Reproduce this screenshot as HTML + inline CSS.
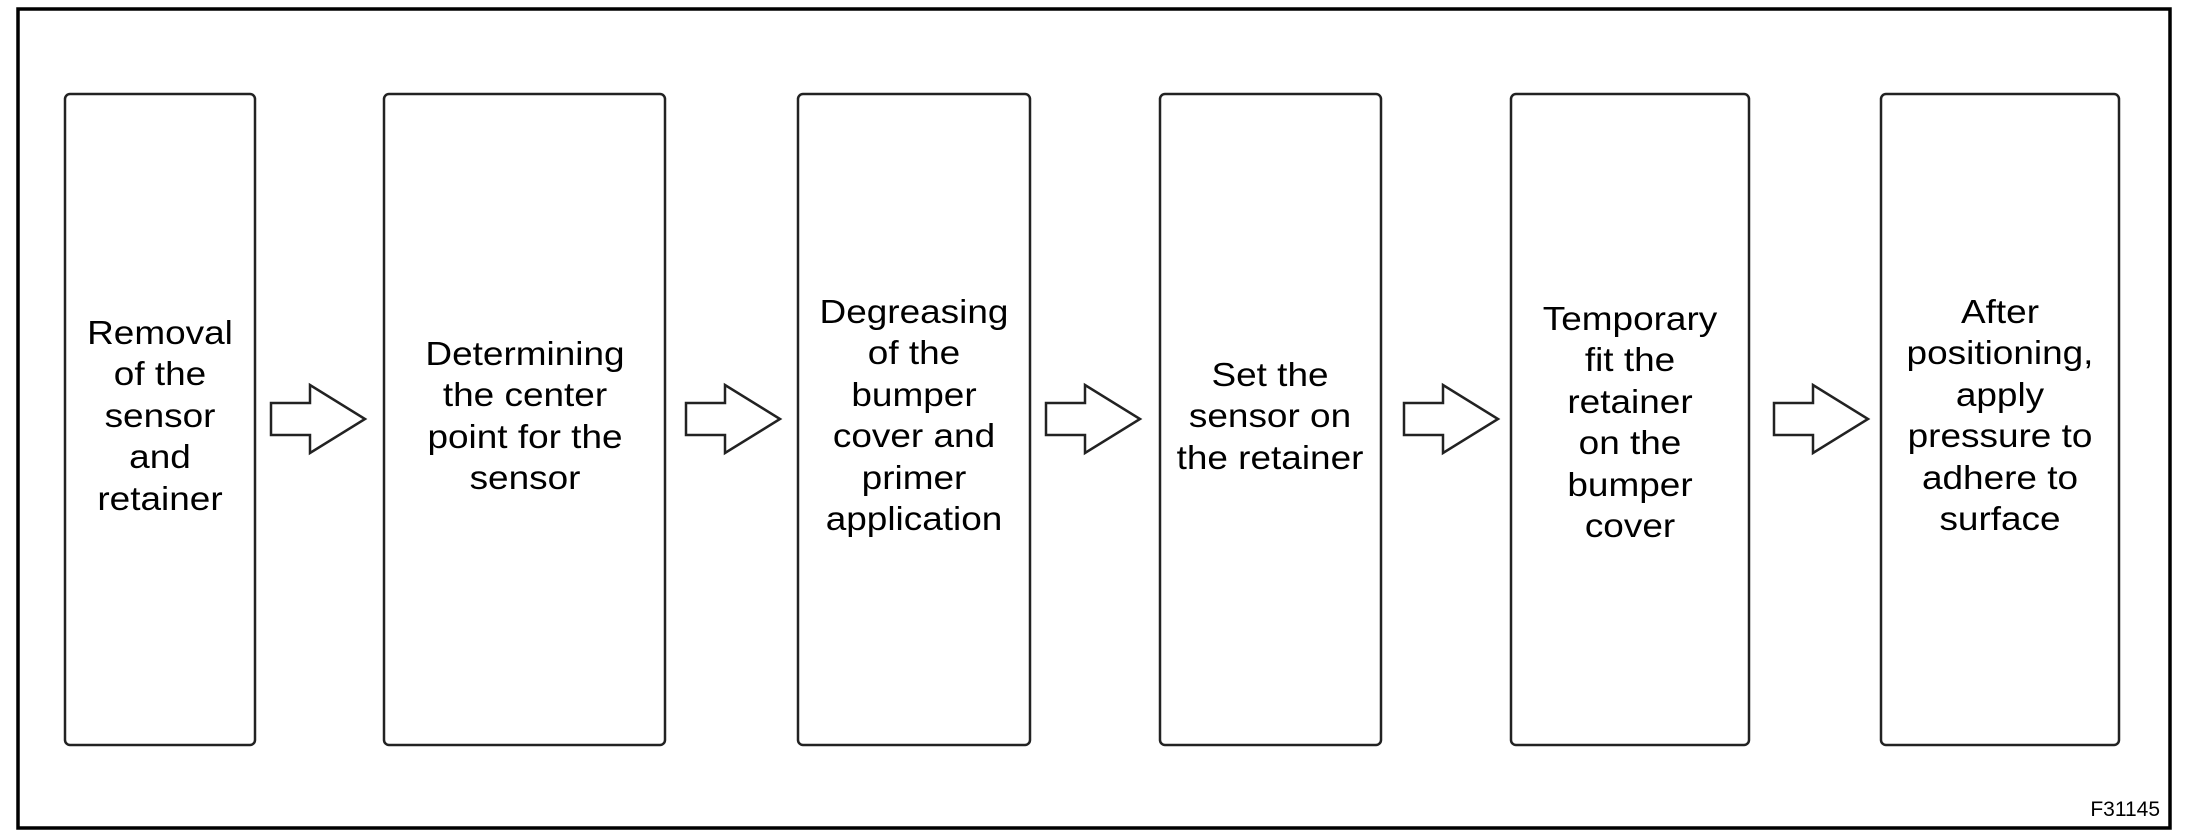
<!DOCTYPE html>
<html><head><meta charset="utf-8"><style>
html,body{margin:0;padding:0;background:#fff;}
svg{display:block;}
text{font-family:"Liberation Sans",Arial,sans-serif;fill:#000;}
</style></head><body>
<svg width="2188" height="840" viewBox="0 0 2188 840" xmlns="http://www.w3.org/2000/svg">
<rect x="0" y="0" width="2188" height="840" fill="#fff"/>
<rect x="18" y="9" width="2152" height="819" fill="none" stroke="#000" stroke-width="3.5"/>
<g fill="#fff" stroke="#222" stroke-width="2.5">
<rect x="65" y="94" width="190" height="651" rx="5"/>
<rect x="384" y="94" width="281" height="651" rx="5"/>
<rect x="798" y="94" width="232" height="651" rx="5"/>
<rect x="1160" y="94" width="221" height="651" rx="5"/>
<rect x="1511" y="94" width="238" height="651" rx="5"/>
<rect x="1881" y="94" width="238" height="651" rx="5"/>
</g>
<g fill="#fff" stroke="#222" stroke-width="2.5" stroke-linejoin="miter">
<polygon points="0,-16 39,-16 39,-34 94,0 39,34 39,16 0,16" transform="translate(271,419)"/>
<polygon points="0,-16 39,-16 39,-34 94,0 39,34 39,16 0,16" transform="translate(686,419)"/>
<polygon points="0,-16 39,-16 39,-34 94,0 39,34 39,16 0,16" transform="translate(1046,419)"/>
<polygon points="0,-16 39,-16 39,-34 94,0 39,34 39,16 0,16" transform="translate(1404,419)"/>
<polygon points="0,-16 39,-16 39,-34 94,0 39,34 39,16 0,16" transform="translate(1774,419)"/>
</g>
<g font-size="33" text-anchor="middle">
<g transform="translate(160,0) scale(1.12,1)">
<text x="0" y="344">Removal</text><text x="0" y="385">of the</text><text x="0" y="427">sensor</text><text x="0" y="468">and</text><text x="0" y="510">retainer</text>
</g>
<g transform="translate(525,0) scale(1.12,1)">
<text x="0" y="365">Determining</text><text x="0" y="406">the center</text><text x="0" y="448">point for the</text><text x="0" y="489">sensor</text>
</g>
<g transform="translate(914,0) scale(1.12,1)">
<text x="0" y="323">Degreasing</text><text x="0" y="364">of the</text><text x="0" y="406">bumper</text><text x="0" y="447">cover and</text><text x="0" y="489">primer</text><text x="0" y="530">application</text>
</g>
<g transform="translate(1270,0) scale(1.12,1)">
<text x="0" y="386">Set the</text><text x="0" y="427">sensor on</text><text x="0" y="469">the retainer</text>
</g>
<g transform="translate(1630,0) scale(1.12,1)">
<text x="0" y="330">Temporary</text><text x="0" y="371">fit the</text><text x="0" y="413">retainer</text><text x="0" y="454">on the</text><text x="0" y="496">bumper</text><text x="0" y="537">cover</text>
</g>
<g transform="translate(2000,0) scale(1.12,1)">
<text x="0" y="323">After</text><text x="0" y="364">positioning,</text><text x="0" y="406">apply</text><text x="0" y="447">pressure to</text><text x="0" y="489">adhere to</text><text x="0" y="530">surface</text>
</g>
</g>
<text x="2160" y="816" font-size="21" text-anchor="end">F31145</text>
</svg>
</body></html>
